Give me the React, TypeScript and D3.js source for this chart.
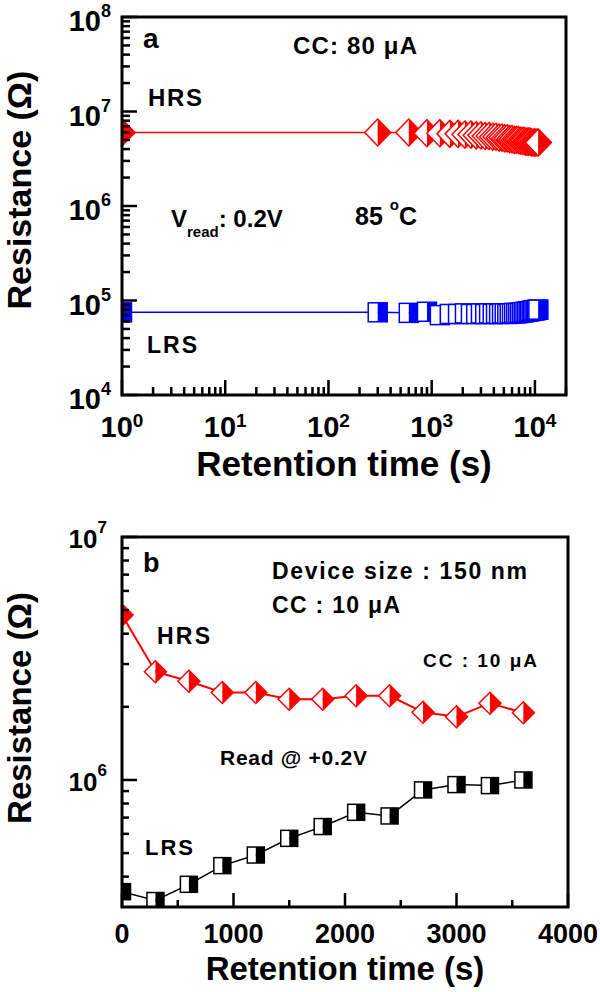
import React from "react";
import * as d3 from "d3";

// ---------- Panel a data ----------
const aTime = [1, 300, 600, 900, 1200, 1500, 1800, 2100, 2400, 2700, 3000, 3300, 3600, 3900, 4200, 4500, 4800, 5100, 5400, 5700, 6000, 6300, 6600, 6900, 7200, 7500, 7800, 8100, 8400, 8700, 9000, 9300, 9600, 9900, 10200, 10500, 10800];
const aHRS = [6.0e6, 6.0e6, 6.0e6, 5.9e6, 5.9e6, 5.8e6, 5.8e6, 5.7e6, 5.7e6, 5.6e6, 5.6e6, 5.5e6, 5.5e6, 5.4e6, 5.4e6, 5.3e6, 5.3e6, 5.2e6, 5.2e6, 5.1e6, 5.1e6, 5.0e6, 5.0e6, 5.0e6, 4.9e6, 4.9e6, 4.9e6, 4.8e6, 4.8e6, 4.8e6, 4.8e6, 4.7e6, 4.7e6, 4.7e6, 4.7e6, 4.7e6, 4.7e6];
const aLRS = [7.5e4, 7.5e4, 7.4e4, 7.6e4, 7.0e4, 7.2e4, 7.2e4, 7.3e4, 7.2e4, 7.2e4, 7.3e4, 7.2e4, 7.3e4, 7.2e4, 7.3e4, 7.2e4, 7.3e4, 7.3e4, 7.2e4, 7.3e4, 7.3e4, 7.4e4, 7.3e4, 7.4e4, 7.4e4, 7.5e4, 7.5e4, 7.6e4, 7.6e4, 7.7e4, 7.7e4, 7.8e4, 7.8e4, 7.9e4, 7.9e4, 8.0e4, 8.0e4];
const aXTickExp = [0, 1, 2, 3, 4];
const aYTickExp = [4, 5, 6, 7, 8];

// ---------- Panel b data ----------
const bTime = [0, 300, 600, 900, 1200, 1500, 1800, 2100, 2400, 2700, 3000, 3300, 3600];
const bHRS = [4.77e6, 2.79e6, 2.55e6, 2.29e6, 2.29e6, 2.15e6, 2.15e6, 2.22e6, 2.22e6, 1.9e6, 1.82e6, 2.07e6, 1.89e6];
const bLRS = [3.47e5, 3.19e5, 3.72e5, 4.44e5, 4.91e5, 5.75e5, 6.43e5, 7.36e5, 7.11e5, 9.1e5, 9.57e5, 9.48e5, 1.0e6];
const bXTicks = [0, 1000, 2000, 3000, 4000];
const bXMinor = [500, 1500, 2500, 3500];
const bYTickExp = [6, 7];

const FONT = "'Liberation Sans', Arial, Helvetica, sans-serif";
const RED = "#ff0000";
const BLUE = "#0000ff";

function Diamond({ cx, cy, w, h, color }: any) {
  return (
    <g>
      <path d={`M${cx},${cy - h}L${cx - w},${cy}L${cx},${cy + h}Z`} fill="#fff" />
      <path d={`M${cx},${cy - h}L${cx + w},${cy}L${cx},${cy + h}Z`} fill={color} />
      <path d={`M${cx},${cy - h}L${cx + w},${cy}L${cx},${cy + h}L${cx - w},${cy}Z`} fill="none" stroke={color} strokeWidth={1.5} />
    </g>
  );
}

function Square({ cx, cy, w, h, color }: any) {
  return (
    <g>
      <rect x={cx - w} y={cy - h} width={w} height={2 * h} fill="#fff" />
      <rect x={cx} y={cy - h} width={w} height={2 * h} fill={color} />
      <rect x={cx - w} y={cy - h} width={2 * w} height={2 * h} fill="none" stroke={color} strokeWidth={1.5} />
    </g>
  );
}

function logMinor(lo: number, hi: number) {
  const out: number[] = [];
  for (let e = lo; e < hi; e++) for (let m = 2; m <= 9; m++) out.push(m * Math.pow(10, e));
  return out;
}

export default function App() {
  // Panel a
  const xA = d3.scaleLog().domain([1, 20000]).range([122, 566]);
  const yA = d3.scaleLog().domain([1e4, 1e8]).range([395, 17]);
  // Panel b
  const xB = d3.scaleLinear().domain([0, 4000]).range([122, 568]);
  const yB = d3.scaleLog().domain([3e5, 1e7]).range([907, 537]);

  const lineAH = d3.line<number>().x((_, i) => xA(aTime[i])).y((d) => yA(d))(aHRS) || "";
  const lineAL = d3.line<number>().x((_, i) => xA(aTime[i])).y((d) => yA(d))(aLRS) || "";
  const lineBH = d3.line<number>().x((_, i) => xB(bTime[i])).y((d) => yB(d))(bHRS) || "";
  const lineBL = d3.line<number>().x((_, i) => xB(bTime[i])).y((d) => yB(d))(bLRS) || "";

  const aXMinor = logMinor(0, 4).concat([2e4]).filter((v) => v <= 20000);
  const aYMinor = logMinor(4, 8);
  const bYMinor = [4e5, 5e5, 6e5, 7e5, 8e5, 9e5, 2e6, 3e6, 4e6, 5e6, 6e6, 7e6, 8e6, 9e6];

  const tk = { stroke: "#000", strokeWidth: 2.5 };

  return (
    <svg width={600} height={992} style={{ position: "absolute", left: 0, top: 0, background: "#fff" }} fontFamily={FONT} fontWeight="bold">
      <defs>
        <clipPath id="clipA"><rect x={122} y={17} width={444} height={378} /></clipPath>
        <clipPath id="clipB"><rect x={122} y={537} width={446} height={370} /></clipPath>
      </defs>
      <rect x={0} y={0} width={600} height={992} fill="#fff" />

      {/* ================= Panel a ================= */}
      <g clipPath="url(#clipA)">
        <path d={lineAH} fill="none" stroke={RED} strokeWidth={1.5} />
        <path d={lineAL} fill="none" stroke={BLUE} strokeWidth={1.5} />
        {aHRS.map((v, i) => (
          <Diamond key={"ah" + i} cx={xA(aTime[i])} cy={yA(v)} w={13} h={13.5} color={RED} />
        ))}
        {aLRS.map((v, i) => (
          <Square key={"al" + i} cx={xA(aTime[i])} cy={yA(v)} w={9.5} h={9.5} color={BLUE} />
        ))}
      </g>
      {/* ticks */}
      {aXTickExp.map((e) => (
        <line key={"axm" + e} x1={xA(Math.pow(10, e))} x2={xA(Math.pow(10, e))} y1={395} y2={380} {...tk} />
      ))}
      {aXMinor.map((v, i) => (
        <line key={"axn" + i} x1={xA(v)} x2={xA(v)} y1={395} y2={387} {...tk} />
      ))}
      {aYTickExp.map((e) => (
        <line key={"aym" + e} x1={122} x2={137} y1={yA(Math.pow(10, e))} y2={yA(Math.pow(10, e))} {...tk} />
      ))}
      {aYMinor.map((v, i) => (
        <line key={"ayn" + i} x1={122} x2={130} y1={yA(v)} y2={yA(v)} {...tk} />
      ))}
      <rect x={122} y={17} width={444} height={378} fill="none" stroke="#000" strokeWidth={3} />
      {/* tick labels */}
      {aYTickExp.map((e) => (
        <text key={"ayl" + e} x={111} y={yA(Math.pow(10, e)) + 14} textAnchor="end" fontSize={29}>
          10<tspan fontSize={18} dy={-14}>{e}</tspan>
        </text>
      ))}
      {aXTickExp.map((e) => (
        <text key={"axl" + e} x={xA(Math.pow(10, e))} y={437} textAnchor="middle" fontSize={29}>
          10<tspan fontSize={19} dy={-10}>{e}</tspan>
        </text>
      ))}
      <text x={344} y={476} textAnchor="middle" fontSize={35}>Retention time (s)</text>
      <text transform="translate(31,190) rotate(-90)" textAnchor="middle" fontSize={34}>Resistance (Ω)</text>
      {/* annotations */}
      <text x={143} y={48} fontSize={28}>a</text>
      <text x={293} y={54} fontSize={24} textLength={124} lengthAdjust="spacing">CC: 80 μA</text>
      <text x={148} y={106} fontSize={24} textLength={54} lengthAdjust="spacing">HRS</text>
      <text x={171} y={227} fontSize={24}>
        V<tspan fontSize={15} dy={10}>read</tspan>
        <tspan dy={-10}>: 0.2V</tspan>
      </text>
      <text x={355} y={225} fontSize={25}>
        85 <tspan fontSize={15} dy={-15}>o</tspan>
        <tspan dy={15}>C</tspan>
      </text>
      <text x={147} y={353} fontSize={23} textLength={50} lengthAdjust="spacing">LRS</text>

      {/* ================= Panel b ================= */}
      <g clipPath="url(#clipB)">
        <path d={lineBH} fill="none" stroke={RED} strokeWidth={2} />
        <path d={lineBL} fill="none" stroke="#000" strokeWidth={1.5} />
        {bHRS.map((v, i) => (
          <Diamond key={"bh" + i} cx={xB(bTime[i])} cy={yB(v)} w={11} h={11} color={RED} />
        ))}
        {bLRS.map((v, i) => (
          <Square key={"bl" + i} cx={xB(bTime[i])} cy={yB(v)} w={8.5} h={8} color="#000" />
        ))}
      </g>
      {bXTicks.map((v) => (
        <line key={"bxm" + v} x1={xB(v)} x2={xB(v)} y1={907} y2={893} {...tk} />
      ))}
      {bXMinor.map((v) => (
        <line key={"bxn" + v} x1={xB(v)} x2={xB(v)} y1={907} y2={900} {...tk} />
      ))}
      {bYTickExp.map((e) => (
        <line key={"bym" + e} x1={122} x2={137} y1={yB(Math.pow(10, e))} y2={yB(Math.pow(10, e))} {...tk} />
      ))}
      {bYMinor.map((v) => (
        <line key={"byn" + v} x1={122} x2={129} y1={yB(v)} y2={yB(v)} {...tk} />
      ))}
      <rect x={122} y={537} width={446} height={370} fill="none" stroke="#000" strokeWidth={3} />
      {bYTickExp.map((e) => (
        <text key={"byl" + e} x={107} y={yB(Math.pow(10, e)) + 11} textAnchor="end" fontSize={26}>
          10<tspan fontSize={17} dy={-15}>{e}</tspan>
        </text>
      ))}
      {bXTicks.map((v) => (
        <text key={"bxl" + v} x={xB(v)} y={943} textAnchor="middle" fontSize={27}>{v}</text>
      ))}
      <text x={345} y={980} textAnchor="middle" fontSize={33}>Retention time (s)</text>
      <text transform="translate(31,708) rotate(-90)" textAnchor="middle" fontSize={33}>Resistance (Ω)</text>
      <text x={143} y={572} fontSize={27}>b</text>
      <text x={272} y={579} fontSize={23} textLength={255} lengthAdjust="spacing">Device size : 150 nm</text>
      <text x={272} y={613} fontSize={23} textLength={128} lengthAdjust="spacing">CC : 10 μA</text>
      <text x={157} y={644} fontSize={23} textLength={53} lengthAdjust="spacing">HRS</text>
      <text x={423} y={667} fontSize={19} textLength={114} lengthAdjust="spacing">CC : 10 μA</text>
      <text x={220} y={765} fontSize={21} textLength={147} lengthAdjust="spacing">Read @ +0.2V</text>
      <text x={145} y={855} fontSize={22} textLength={48} lengthAdjust="spacing">LRS</text>
    </svg>
  );
}
